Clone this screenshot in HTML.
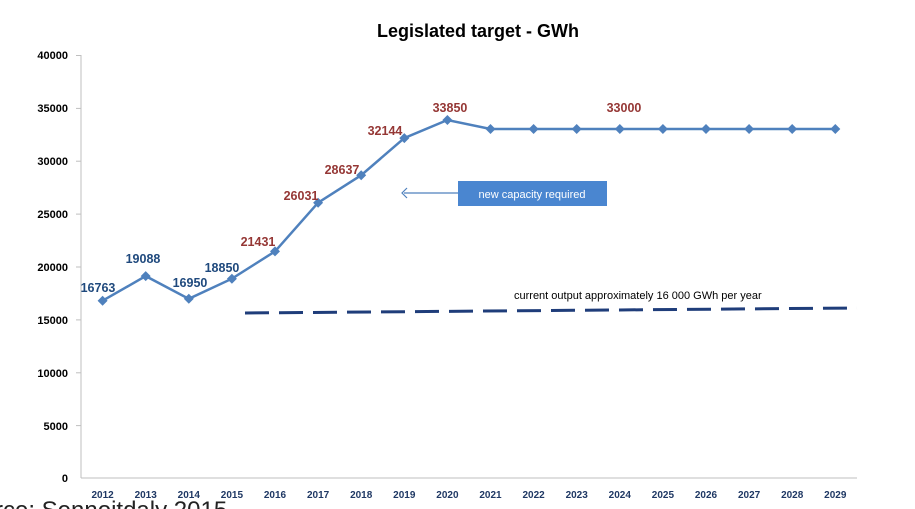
<!DOCTYPE html>
<html><head><style>
body{margin:0;background:#fff;}
svg{display:block;font-family:"Liberation Sans",Arial,sans-serif;}
</style></head><body>
<svg width="915" height="509" viewBox="0 0 915 509">
<text x="478" y="37" font-size="18" font-weight="bold" text-anchor="middle" fill="#000">Legislated target - GWh</text>
<g stroke="#bfbfbf" stroke-width="1">
<line x1="81" y1="55" x2="81" y2="478"/>
<line x1="81" y1="478" x2="857" y2="478"/>
<line x1="76" y1="55.5" x2="81" y2="55.5"/><line x1="76" y1="108.4" x2="81" y2="108.4"/><line x1="76" y1="161.2" x2="81" y2="161.2"/><line x1="76" y1="214.1" x2="81" y2="214.1"/><line x1="76" y1="267" x2="81" y2="267"/><line x1="76" y1="319.9" x2="81" y2="319.9"/><line x1="76" y1="372.8" x2="81" y2="372.8"/><line x1="76" y1="425.6" x2="81" y2="425.6"/>
</g>
<g font-size="11" font-weight="bold" text-anchor="end" fill="#000">
<text x="68" y="59">40000</text><text x="68" y="112">35000</text><text x="68" y="165">30000</text><text x="68" y="218">25000</text><text x="68" y="271">20000</text><text x="68" y="324">15000</text><text x="68" y="377">10000</text><text x="68" y="430">5000</text><text x="68" y="482">0</text>
</g>
<g font-size="10" font-weight="bold" text-anchor="middle" fill="#1f3864">
<text x="102.6" y="498">2012</text><text x="145.7" y="498">2013</text><text x="188.8" y="498">2014</text><text x="231.9" y="498">2015</text><text x="275" y="498">2016</text><text x="318.1" y="498">2017</text><text x="361.2" y="498">2018</text><text x="404.3" y="498">2019</text><text x="447.4" y="498">2020</text><text x="490.5" y="498">2021</text><text x="533.6" y="498">2022</text><text x="576.7" y="498">2023</text><text x="619.8" y="498">2024</text><text x="662.9" y="498">2025</text><text x="706" y="498">2026</text><text x="749.1" y="498">2027</text><text x="792.2" y="498">2028</text><text x="835.3" y="498">2029</text>
</g>
<line x1="245" y1="313" x2="857" y2="308" stroke="#1f3d7a" stroke-width="3" stroke-dasharray="24,10"/>
<text x="514" y="299" font-size="11" fill="#000">current output approximately 16 000 GWh per year</text>
<polyline fill="none" stroke="#4f81bd" stroke-width="2.5" points="102.6,300.7 145.7,276.1 188.8,298.8 231.9,278.7 275,251.4 318.1,202.7 361.2,175.2 404.3,138.1 447.4,120 490.5,129 533.6,129 576.7,129 619.8,129 662.9,129 706,129 749.1,129 792.2,129 835.3,129"/>
<g fill="#4f81bd">
<path d="M102.6 295.7l5 5-5 5-5-5z"/><path d="M145.7 271.1l5 5-5 5-5-5z"/><path d="M188.8 293.8l5 5-5 5-5-5z"/><path d="M231.9 273.7l5 5-5 5-5-5z"/><path d="M275 246.4l5 5-5 5-5-5z"/><path d="M318.1 197.7l5 5-5 5-5-5z"/><path d="M361.2 170.2l5 5-5 5-5-5z"/><path d="M404.3 133.1l5 5-5 5-5-5z"/><path d="M447.4 115l5 5-5 5-5-5z"/><path d="M490.5 124l5 5-5 5-5-5z"/><path d="M533.6 124l5 5-5 5-5-5z"/><path d="M576.7 124l5 5-5 5-5-5z"/><path d="M619.8 124l5 5-5 5-5-5z"/><path d="M662.9 124l5 5-5 5-5-5z"/><path d="M706 124l5 5-5 5-5-5z"/><path d="M749.1 124l5 5-5 5-5-5z"/><path d="M792.2 124l5 5-5 5-5-5z"/><path d="M835.3 124l5 5-5 5-5-5z"/>
</g>
<g font-size="12.5" font-weight="bold" text-anchor="middle">
<g fill="#1f497d"><text x="98" y="292">16763</text><text x="143" y="263">19088</text><text x="190" y="287">16950</text><text x="222" y="272">18850</text></g>
<g fill="#953735"><text x="258" y="246">21431</text><text x="301" y="200">26031</text><text x="342" y="174">28637</text><text x="385" y="135">32144</text><text x="450" y="112">33850</text><text x="624" y="112">33000</text></g>
</g>
<line x1="404" y1="193" x2="458" y2="193" stroke="#4f81bd" stroke-width="1.2"/>
<path d="M407 188l-5 5 5 5" fill="none" stroke="#4f81bd" stroke-width="1.2"/>
<rect x="458" y="181" width="149" height="25" fill="#4a86d0"/>
<text x="532" y="198" font-size="11" fill="#fff" text-anchor="middle">new capacity required</text>
<text x="-5" y="518" font-size="24" fill="#222">rce: Sennoitdaly 2015</text>
</svg>
</body></html>
